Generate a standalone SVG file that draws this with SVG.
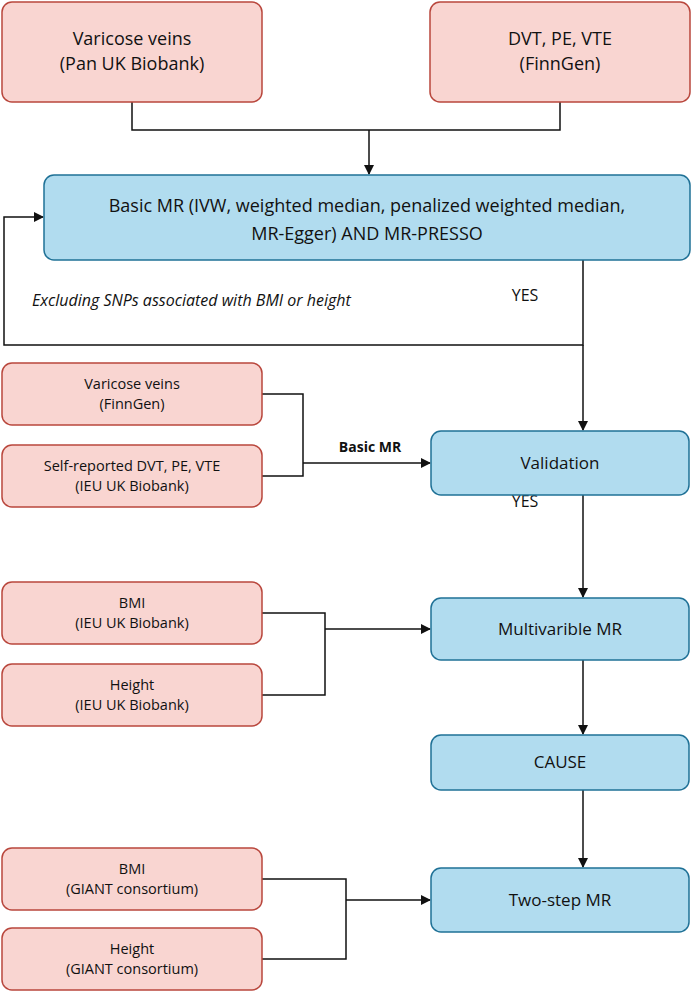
<svg xmlns="http://www.w3.org/2000/svg" width="692" height="992" viewBox="0 0 692 992">
<style>
text{font-family:"Open Sans","Noto Sans",sans-serif;fill:#111;text-anchor:middle}
.p rect{fill:#f9d5d1;stroke:#b9473d;stroke-width:1.5}
.b rect{fill:#b1dcef;stroke:#1f7196;stroke-width:1.5}
.l{font-size:18px}.s{font-size:14.5px}.m{font-size:17px}.y{font-size:16px}
#connectors path{fill:none;stroke:#111;stroke-width:1.5}
</style>
<defs><marker id="a" markerWidth="10" markerHeight="10" refX="9" refY="5" orient="auto" markerUnits="userSpaceOnUse"><path d="M0,0 L10,5 L0,10 z" fill="#111"/></marker></defs>
<rect width="692" height="992" fill="#fff"/>
<g id="connectors">
<path d="M132,102 V130 H560 V102"/>
<path d="M369,130 V174" marker-end="url(#a)"/>
<path d="M583,260 V345 H4 V217 H43" marker-end="url(#a)"/>
<path d="M583,345 V430" marker-end="url(#a)"/>
<path d="M262,394 H303 V476 H262"/>
<path d="M303,463 H430" marker-end="url(#a)"/>
<path d="M583,495 V597" marker-end="url(#a)"/>
<path d="M262,613 H325 V695 H262"/>
<path d="M325,629 H430" marker-end="url(#a)"/>
<path d="M583,660 V734" marker-end="url(#a)"/>
<path d="M583,790 V867" marker-end="url(#a)"/>
<path d="M262,879 H346 V959 H262"/>
<path d="M346,900 H430" marker-end="url(#a)"/>
</g>
<text x="525" y="301" class="y">YES</text>
<text x="32" y="306" class="y" style="text-anchor:start;font-style:italic">Excluding SNPs associated with BMI or height</text>
<text x="370" y="452" style="font-weight:bold;font-size:14px">Basic MR</text>
<text x="525" y="507" class="y">YES</text>
<g id="n1" class="p"><rect x="2" y="2" width="260" height="100" rx="10"/><text x="132" y="45" class="l">Varicose veins</text><text x="132" y="70" class="l">(Pan UK Biobank)</text></g>
<g id="n2" class="p"><rect x="430" y="2" width="260" height="100" rx="10"/><text x="560" y="45" class="l">DVT, PE, VTE</text><text x="560" y="70" class="l">(FinnGen)</text></g>
<g id="n3" class="b"><rect x="44" y="175" width="646" height="85" rx="10"/><text x="367" y="212" class="l">Basic MR (IVW, weighted median, penalized weighted median,</text><text x="367" y="240" class="l">MR-Egger) AND MR-PRESSO</text></g>
<g id="n4" class="p"><rect x="2" y="363" width="260" height="62" rx="10"/><text x="132" y="389" class="s">Varicose veins</text><text x="132" y="409" class="s">(FinnGen)</text></g>
<g id="n5" class="p"><rect x="2" y="445" width="260" height="62" rx="10"/><text x="132" y="471" class="s">Self-reported DVT, PE, VTE</text><text x="132" y="491" class="s">(IEU UK Biobank)</text></g>
<g id="n6" class="b"><rect x="431" y="431" width="258" height="64" rx="10"/><text x="560" y="469" class="m">Validation</text></g>
<g id="n7" class="p"><rect x="2" y="582" width="260" height="62" rx="10"/><text x="132" y="608" class="s">BMI</text><text x="132" y="628" class="s">(IEU UK Biobank)</text></g>
<g id="n8" class="p"><rect x="2" y="664" width="260" height="62" rx="10"/><text x="132" y="690" class="s">Height</text><text x="132" y="710" class="s">(IEU UK Biobank)</text></g>
<g id="n9" class="b"><rect x="431" y="598" width="258" height="62" rx="10"/><text x="560" y="635" class="m">Multivarible MR</text></g>
<g id="n10" class="b"><rect x="431" y="735" width="258" height="55" rx="10"/><text x="560" y="768" class="m">CAUSE</text></g>
<g id="n11" class="p"><rect x="2" y="848" width="260" height="62" rx="10"/><text x="132" y="874" class="s">BMI</text><text x="132" y="894" class="s">(GIANT consortium)</text></g>
<g id="n12" class="p"><rect x="2" y="928" width="260" height="62" rx="10"/><text x="132" y="954" class="s">Height</text><text x="132" y="974" class="s">(GIANT consortium)</text></g>
<g id="n13" class="b"><rect x="431" y="868" width="258" height="64" rx="10"/><text x="560" y="906" class="m">Two-step MR</text></g>
</svg>
